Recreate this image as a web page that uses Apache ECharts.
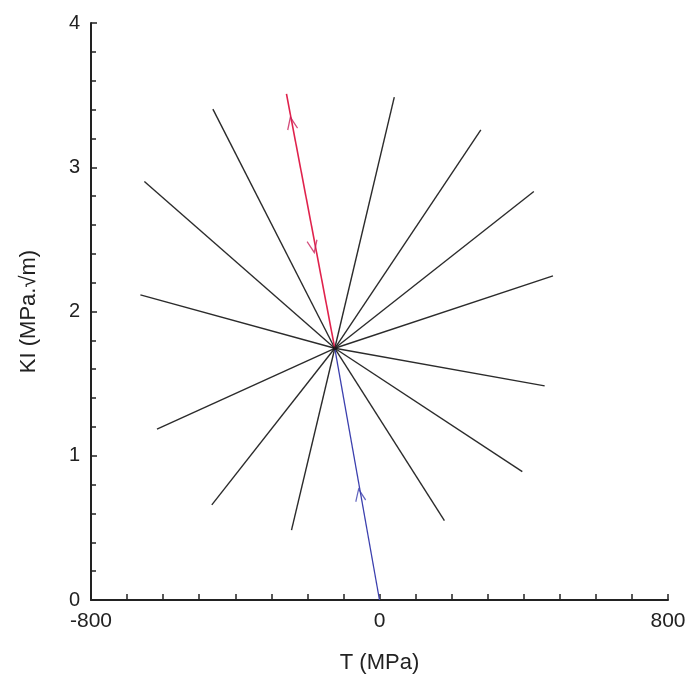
<!DOCTYPE html>
<html>
<head>
<meta charset="utf-8">
<script src="https://cdn.jsdelivr.net/npm/echarts@6/dist/echarts.min.js"></script>
<style>html,body{margin:0;padding:0;background:#fff}#c{width:697px;height:679px}</style>
</head>
<body>
<div id="c"></div>
<script>
// Data
const centerT = -124, centerK = 1.745;
const spokeT = [-462, -652, -663, -617, -465, -244, 180, 396, 458, 481, 428, 281, 41];
const spokeK = [3.403, 2.901, 2.115, 1.184, 0.659, 0.485, 0.550, 0.890, 1.484, 2.247, 2.832, 3.259, 3.486];
const loadT = [0, -124];
const loadK = [0, 1.745];
const redT = [-124, -258];
const redK = [1.745, 3.509];
const redArrowT = [-244, -184];
const redArrowK = [3.306, 2.450];
const redArrowDir = [1, -1]; // 1 = toward end of red path, -1 = toward start
const blueArrowT = [-55];
const blueArrowK = [0.728];
const xLabels = [-800, 0, 800];

const chart = echarts.init(document.getElementById('c'));
const font = 'Liberation Sans, Arial, sans-serif';
const chevron = 'path://M0,10 L5,0 L10,10';

const series = [];
spokeT.forEach((t, i) => {
  series.push({
    type: 'line', data: [[centerT, centerK], [t, spokeK[i]]],
    symbol: 'none', silent: true,
    lineStyle: { color: '#2b2b2b', width: 1.4 }
  });
});
series.push({
  type: 'line', data: loadT.map((t, i) => [t, loadK[i]]),
  symbol: 'none', lineStyle: { color: '#3b3fae', width: 1.3 }, z: 3
});
series.push({
  type: 'line', data: redT.map((t, i) => [t, redK[i]]),
  symbol: 'none', lineStyle: { color: '#e0224c', width: 1.6 }, z: 3
});
series.push({
  type: 'scatter', id: 'redArrows',
  data: redArrowT.map((t, i) => [t, redArrowK[i]]),
  symbol: chevron, symbolSize: [10, 12],
  itemStyle: { color: 'rgba(0,0,0,0)', borderColor: '#c8205a', borderWidth: 1.4 }, z: 4
});
series.push({
  type: 'scatter', id: 'blueArrows',
  data: blueArrowT.map((t, i) => [t, blueArrowK[i]]),
  symbol: chevron, symbolSize: [10, 12],
  itemStyle: { color: 'rgba(0,0,0,0)', borderColor: '#3b3fae', borderWidth: 1.3 }, z: 4
});
series.push({
  type: 'scatter', data: [[centerT, centerK]], symbolSize: 4,
  itemStyle: { color: '#111' }, z: 5
});

chart.setOption({
  animation: false,
  backgroundColor: '#fff',
  grid: { left: 91, right: 29, top: 23, bottom: 79 },
  xAxis: {
    type: 'value', min: -800, max: 800, interval: 100,
    name: 'T (MPa)', nameLocation: 'middle', nameGap: 52,
    nameTextStyle: { fontFamily: font, fontSize: 22, color: '#222' },
    axisLine: { onZero: false, lineStyle: { color: '#222', width: 2 } },
    axisTick: { inside: true, length: 6, lineStyle: { color: '#222', width: 1.5 } },
    axisLabel: {
      interval: 0, margin: 11, fontFamily: font, fontSize: 21, color: '#222',
      formatter: v => xLabels.indexOf(v) >= 0 ? String(v) : ''
    },
    splitLine: { show: false }
  },
  yAxis: {
    type: 'value', min: 0, max: 4, interval: 1,
    name: 'KI (MPa.√m)', nameLocation: 'middle', nameGap: 51,
    nameTextStyle: { fontFamily: font, fontSize: 22, color: '#222' },
    axisLine: { onZero: false, lineStyle: { color: '#222', width: 2 } },
    axisTick: { inside: true, length: 6, lineStyle: { color: '#222', width: 1.5 } },
    minorTick: { show: true, splitNumber: 5, length: 5, lineStyle: { color: '#222', width: 1.5 } },
    axisLabel: { margin: 11, fontFamily: font, fontSize: 20, color: '#222' },
    splitLine: { show: false }
  },
  series: series
});

// orient the chevrons along their path directions in screen space
function angleOf(p0, p1) {
  const a = chart.convertToPixel({ gridIndex: 0 }, p0);
  const b = chart.convertToPixel({ gridIndex: 0 }, p1);
  const dx = b[0] - a[0], dy = b[1] - a[1];
  return Math.atan2(-dx, -dy) * 180 / Math.PI;
}
const redAng = angleOf([redT[0], redK[0]], [redT[1], redK[1]]);
const blueAng = angleOf([loadT[0], loadK[0]], [loadT[1], loadK[1]]);
chart.setOption({
  series: [
    { id: 'redArrows', data: redArrowT.map((t, i) => ({ value: [t, redArrowK[i]], symbolRotate: redArrowDir[i] > 0 ? redAng : redAng + 180 })) },
    { id: 'blueArrows', data: blueArrowT.map((t, i) => ({ value: [t, blueArrowK[i]], symbolRotate: blueAng })) }
  ]
});
</script>
</body>
</html>
